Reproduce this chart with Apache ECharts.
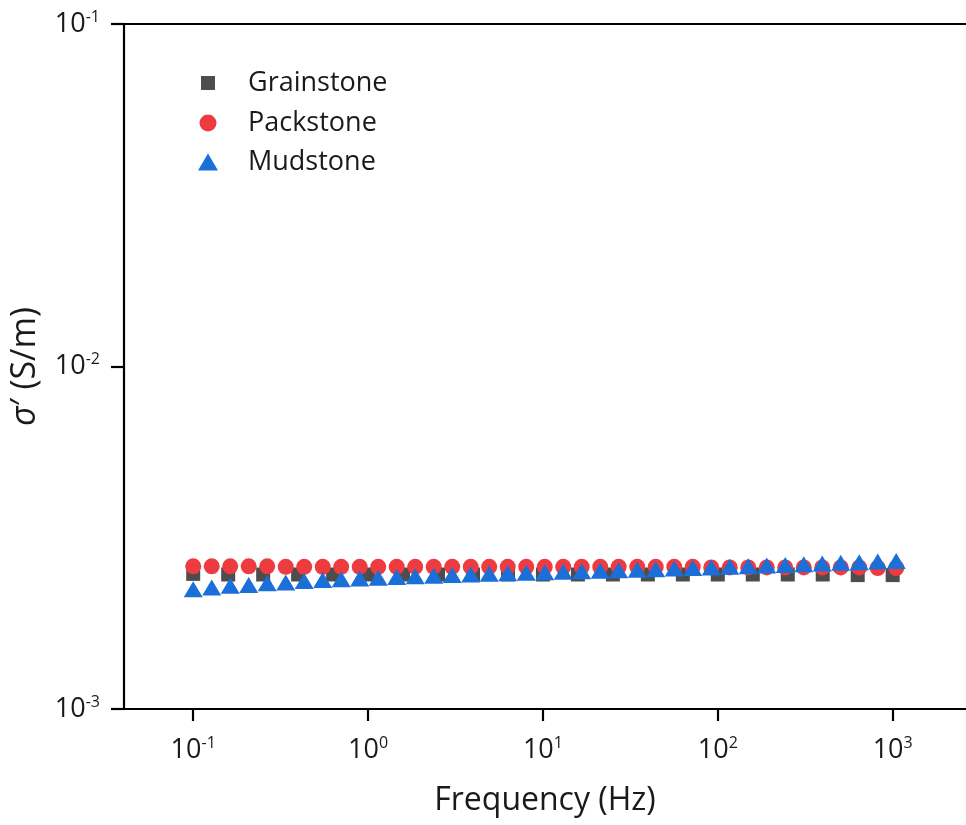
<!DOCTYPE html>
<html>
<head>
<meta charset="utf-8">
<title>Real conductivity vs frequency</title>
<script src="https://cdn.jsdelivr.net/npm/echarts@6/dist/echarts.min.js"></script>
<style>
  html, body { margin: 0; padding: 0; background: #ffffff; }
  #chart { width: 966px; height: 825px; }
</style>
</head>
<body>
<div id="chart"></div>
<script>
// Measurement frequencies (Hz)
const grainFreq = [0.1, 0.1585, 0.2512, 0.3981, 0.631, 1, 1.585, 2.512, 3.981, 6.31,
  10, 15.85, 25.12, 39.81, 63.1, 100, 158.5, 251.2, 398.1, 631, 1000];
const sweepFreq = [0.1, 0.1276, 0.1628, 0.2077, 0.265, 0.3381, 0.4313, 0.5503, 0.7021, 0.8957,
  1.143, 1.458, 1.86, 2.373, 3.028, 3.864, 4.929, 6.289, 8.024, 10.24,
  13.06, 16.66, 21.26, 27.12, 34.61, 44.16, 56.34, 71.88, 91.71, 117.0,
  149.3, 190.5, 243.0, 310.1, 395.6, 504.7, 644.0, 821.6, 1048];

// Real part of conductivity, sigma' (S/m)
const grainstone = [0.00248, 0.00247, 0.00247, 0.00247, 0.00247, 0.00247, 0.00247, 0.00247, 0.00247, 0.00247,
  0.00247, 0.00247, 0.00247, 0.00247, 0.00247, 0.00247, 0.00247, 0.00247, 0.00247, 0.00246, 0.00246];
const packstone = [0.00261, 0.00261, 0.00261, 0.00261, 0.00261, 0.00260, 0.00260, 0.00260, 0.00260, 0.00260,
  0.00260, 0.00260, 0.00260, 0.00260, 0.00260, 0.00260, 0.00260, 0.00260, 0.00260, 0.00260,
  0.00260, 0.00260, 0.00260, 0.00260, 0.00260, 0.00260, 0.00260, 0.00260, 0.00259, 0.00259,
  0.00259, 0.00259, 0.00259, 0.00259, 0.00259, 0.00259, 0.00259, 0.00258, 0.00258];
const mudstone = [0.002238, 0.002263, 0.002289, 0.002302, 0.002328, 0.002341, 0.002364, 0.002380, 0.002392, 0.002405,
  0.002418, 0.002429, 0.002440, 0.002450, 0.002462, 0.002472, 0.002482, 0.002490, 0.002500, 0.002509,
  0.002517, 0.002526, 0.002534, 0.002543, 0.002551, 0.002560, 0.002570, 0.002581, 0.002591, 0.002602,
  0.002612, 0.002623, 0.002633, 0.002646, 0.002658, 0.002671, 0.002681, 0.002694, 0.002705];

const seriesNames = ['Grainstone', 'Packstone', 'Mudstone'];
const xTicks = [0.1, 1, 10, 100, 1000];
const yTicks = [0.001, 0.01, 0.1];
const xRange = [0.0402, 2626];
const yRange = [0.001, 0.1];

const FONT = '"Open Sans", Lato, sans-serif';
const INK = '#1a1a1a';
const COLORS = { gray: '#4d4d4d', red: '#ee3b3f', blue: '#1b6fd9' };

const zip = (xs, ys) => xs.map((x, i) => [x, ys[i]]);
const powLabel = v => '{b|10}{s|' + Math.round(Math.log10(v)) + '}';
const powRich = {
  b: { fontFamily: FONT, fontSize: 27, color: INK, lineHeight: 30 },
  s: { fontFamily: FONT, fontSize: 16, color: INK, lineHeight: 16, verticalAlign: 'top' }
};

function legendFor(name, icon, w, h, left, top, pad) {
  return {
    data: [{ name: name, icon: icon }],
    orient: 'vertical',
    left: left, top: top,
    itemWidth: w, itemHeight: h,
    selectedMode: false,
    textStyle: { fontFamily: FONT, fontSize: 27, color: INK, lineHeight: 30, padding: [0, 0, 0, pad] }
  };
}

const chart = echarts.init(document.getElementById('chart'), null, { renderer: 'canvas' });
chart.setOption({
  animation: false,
  backgroundColor: '#ffffff',
  grid: { left: 124, right: 0, top: 24, bottom: 116 },
  legend: [
    legendFor('Grainstone', 'rect', 14, 14, 196, 63, 28),
    legendFor('Packstone', 'circle', 17, 17, 194.5, 103, 26.5),
    legendFor('Mudstone', 'triangle', 20, 17, 193, 142, 25)
  ],
  xAxis: [{
    type: 'log', logBase: 10, min: xRange[0], max: xRange[1],
    name: 'Frequency (Hz)', nameLocation: 'middle', nameGap: 76,
    nameTextStyle: { fontFamily: FONT, fontSize: 32, color: INK },
    axisLine: { show: true, lineStyle: { color: '#000', width: 2.2 } },
    axisTick: { show: true, length: 12, customValues: xTicks, lineStyle: { color: '#000', width: 2.2 } },
    axisLabel: { customValues: xTicks, margin: 26, formatter: powLabel, rich: powRich },
    minorTick: { show: false },
    splitLine: { show: false }
  }, {
    type: 'log', logBase: 10, min: xRange[0], max: xRange[1], position: 'top',
    axisLine: { show: true, lineStyle: { color: '#000', width: 2.2 } },
    axisTick: { show: false }, axisLabel: { show: false }, splitLine: { show: false }
  }],
  yAxis: {
    type: 'log', logBase: 10, min: yRange[0], max: yRange[1],
    name: '{i|σ}{n|′ (S/m)}', nameLocation: 'middle', nameGap: 82,
    nameTextStyle: {
      fontFamily: FONT, fontSize: 34, color: INK,
      rich: {
        i: { fontFamily: FONT, fontStyle: 'italic', fontSize: 34, color: INK },
        n: { fontFamily: FONT, fontSize: 34, color: INK }
      }
    },
    axisLine: { show: true, lineStyle: { color: '#000', width: 2.2 } },
    axisTick: { show: true, length: 13, customValues: yTicks, lineStyle: { color: '#000', width: 2.2 } },
    axisLabel: { customValues: yTicks, margin: 24, formatter: powLabel, rich: powRich },
    minorTick: { show: false },
    splitLine: { show: false }
  },
  series: [
    { name: seriesNames[0], type: 'scatter', symbol: 'rect', symbolSize: 14,
      itemStyle: { color: COLORS.gray, opacity: 1 }, data: zip(grainFreq, grainstone), z: 2 },
    { name: seriesNames[1], type: 'scatter', symbol: 'circle', symbolSize: 16,
      itemStyle: { color: COLORS.red, opacity: 1 }, data: zip(sweepFreq, packstone), z: 3 },
    { name: seriesNames[2], type: 'scatter', symbol: 'triangle', symbolSize: [19, 16],
      itemStyle: { color: COLORS.blue, opacity: 1 }, data: zip(sweepFreq, mudstone), z: 4 }
  ]
});
</script>
</body>
</html>
